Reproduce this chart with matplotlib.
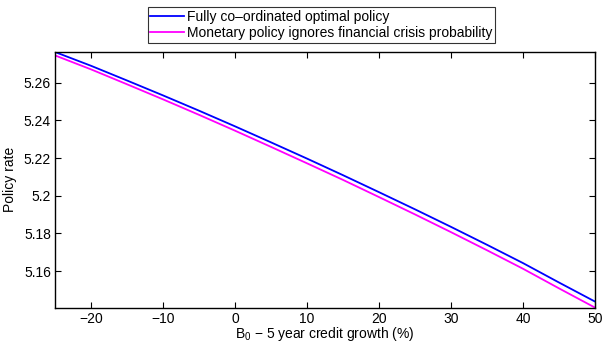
import matplotlib
matplotlib.use("Agg")
import matplotlib.pyplot as plt
from matplotlib.ticker import FuncFormatter

plt.rcParams['font.family'] = ['Liberation Sans', 'DejaVu Sans']
plt.rcParams['mathtext.fontset'] = 'custom'
plt.rcParams['mathtext.rm'] = 'Liberation Sans'
plt.rcParams['mathtext.it'] = 'Liberation Sans'

credit_growth = [-25, -20, -15, -10, -5, 0, 5, 10, 15, 20, 25, 30, 35, 40, 45, 50]
rate_coordinated = [5.2762, 5.2689, 5.2611, 5.2532, 5.2451, 5.2368, 5.2283, 5.2197,
                    5.2109, 5.2019, 5.1928, 5.1835, 5.1740, 5.1643, 5.1540, 5.1439]
rate_ignores = [5.2744, 5.2670, 5.2591, 5.2511, 5.2429, 5.2345, 5.2259, 5.2172,
                5.2084, 5.1993, 5.1901, 5.1807, 5.1711, 5.1613, 5.1509, 5.1407]
x_ticks = [-20, -10, 0, 10, 20, 30, 40, 50]
y_ticks = [5.16, 5.18, 5.20, 5.22, 5.24, 5.26]

fig = plt.figure(figsize=(6.02, 3.42), dpi=100)
ax = fig.add_axes([0.0914, 0.1, 0.897, 0.749])
ax.plot(credit_growth, rate_coordinated, color=(0, 0, 1), lw=1.3,
        label='Fully co\u2013ordinated optimal policy')
ax.plot(credit_growth, rate_ignores, color=(1, 0, 1), lw=1.3,
        label='Monetary policy ignores financial crisis probability')
ax.set_xlim(-25, 50)
ax.set_ylim(5.1406, 5.2764)
ax.set_xticks(x_ticks)
ax.set_yticks(y_ticks)
ax.xaxis.set_major_formatter(FuncFormatter(lambda v, p: ('%g' % v).replace('-', '\u2212')))
ax.yaxis.set_major_formatter(FuncFormatter(lambda v, p: '%g' % round(v, 4)))
ax.tick_params(direction='in', top=True, right=True, length=4, width=0.8, labelsize=10, pad=3)
for s in ax.spines.values():
    s.set_linewidth(1.0)
ax.set_xlabel('B$_0$ \u2212 5 year credit growth (%)', fontsize=10, labelpad=-1)
ax.set_ylabel('Policy rate', fontsize=10, labelpad=5)
leg = ax.legend(loc='lower center', bbox_to_anchor=(0.4935, 1.035), fontsize=10, frameon=True,
                fancybox=False, edgecolor='black', handlelength=2.4, handletextpad=0.25,
                borderpad=0.2, labelspacing=0.15, borderaxespad=0)
leg.get_frame().set_linewidth(0.8)
fig.savefig('out.png', dpi=100)
